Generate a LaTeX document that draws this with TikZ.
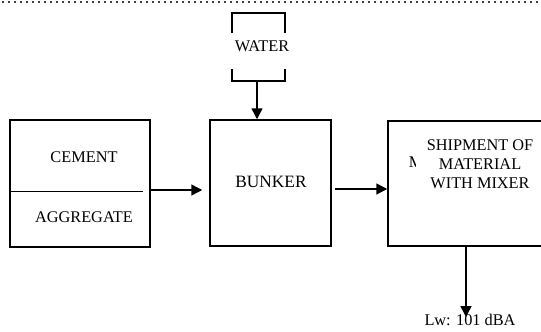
\documentclass[tikz,border=0pt]{standalone}
\usepackage{fontspec}
\setmainfont{Liberation Serif}
\usetikzlibrary{arrows.meta}
\begin{document}
\begin{tikzpicture}[x=1pt,y=-1pt,
  box/.style={draw=black,line width=1.5pt,minimum width=#1},
  lbl/.style={font=\fontsize{16.3}{19}\selectfont,inner sep=0pt},
  flow/.style={line width=1.5pt,-{Triangle[length=11pt,width=11pt]}}]
\useasboundingbox (0,0) rectangle (541,332);
\clip (0,0) rectangle (541,332);
% dotted rule along the top
\draw[line width=1.5pt,black!75,dash pattern=on 1.5pt off 4.5pt] (2,2) -- (541,2);
% water supply bracket
\node[lbl] (water) at (262,46) {WATER};
\draw[line width=1.5pt] (232,33) -- (232,13) -- (285,13) -- (285,33);
\draw[line width=1.5pt] (232,69) -- (232,81) -- (285,81) -- (285,69);
\coordinate (wout) at (257,81);
% process boxes
\node[box=140pt,minimum height=127pt] (mat) at (80,183.5) {};
\draw[line width=0.9pt] (10,191) -- (143,191);
\node[lbl] (cement) at (84,157) {CEMENT};
\node[lbl] (aggr) at (84,217) {AGGREGATE};
\node[box=121pt,minimum height=126pt] (bunker) at (270.5,183) {};
\node[lbl,font=\fontsize{17.3}{19}\selectfont] (bk) at (271,182) {BUNKER};
\node[box=172pt,minimum height=125pt] (ship) at (474,183.5) {};
\node[lbl] (m) at (416,162) {M};
\node[lbl,fill=white,inner xsep=11pt,inner ysep=2pt,align=center] (shiptxt) at (480,164)
  {SHIPMENT OF\\MATERIAL\\WITH MIXER};
% noise output
\node[lbl,anchor=north] (lw) at (470,314) {Lw: 101 dBA};
\coordinate (shipout) at (466,246);
% flows
\draw[flow] (wout) -- (wout |- bunker.north);
\draw[flow,shorten >=7pt] (mat.east |- 0,190) -- (bunker.west |- 0,190);
\draw[flow,shorten <=3pt] (bunker.east |- 0,189) -- (ship.west |- 0,189);
\draw[flow] (shipout) -- (466,317);
\end{tikzpicture}
\end{document}
